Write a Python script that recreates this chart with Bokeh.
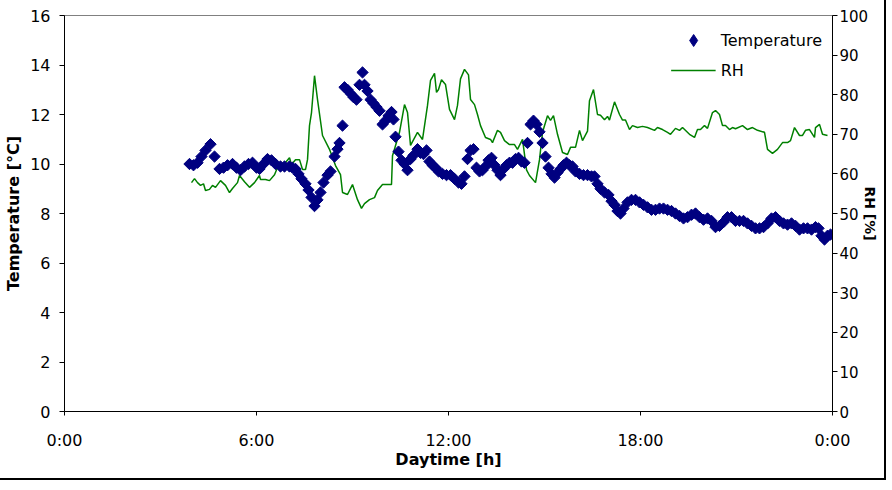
import math
from bokeh.plotting import figure
from bokeh.models import (Range1d, LinearAxis, FixedTicker, Legend, LegendItem,
                          ColumnDataSource)
from bokeh.embed import file_html
from bokeh.resources import INLINE

# ---- data (time of day in hours) ----
temp_hours = [3.906, 4.031, 4.156, 4.281, 4.406, 4.563, 4.688, 4.844, 4.969, 5.094,
              5.25, 5.375, 5.5, 5.625, 5.75, 5.875, 6.0, 6.094, 6.219, 6.344,
              6.469, 6.594, 6.75, 6.875, 7.031, 7.125, 7.219, 7.313, 7.406, 7.531,
              7.625, 7.719, 7.813, 7.906, 8.0, 8.094, 8.219, 8.313, 8.438, 8.531,
              8.594, 8.688, 8.75, 8.844, 8.938, 9.031, 9.125, 9.219, 9.313, 9.375,
              9.469, 9.563, 9.656, 9.75, 9.844, 9.938, 10.031, 10.125, 10.219, 10.281,
              10.344, 10.438, 10.531, 10.625, 10.719, 10.813, 10.906, 11.031, 11.125, 11.219,
              11.313, 11.406, 11.5, 11.594, 11.688, 11.813, 11.938, 12.063, 12.188, 12.313,
              12.406, 12.5, 12.594, 12.688, 12.781, 12.875, 12.969, 13.063, 13.156, 13.25,
              13.344, 13.438, 13.531, 13.625, 13.719, 13.813, 13.906, 14.0, 14.094, 14.188,
              14.281, 14.375, 14.469, 14.563, 14.656, 14.75, 14.844, 14.938, 15.031, 15.125,
              15.219, 15.313, 15.406, 15.5, 15.594, 15.688, 15.781, 15.875, 15.969, 16.094,
              16.219, 16.344, 16.469, 16.563, 16.656, 16.75, 16.875, 17.0, 17.094, 17.188,
              17.281, 17.375, 17.469, 17.594, 17.719, 17.844, 17.969, 18.094, 18.219, 18.344,
              18.469, 18.594, 18.719, 18.844, 18.969, 19.094, 19.219, 19.344, 19.469, 19.594,
              19.719, 19.844, 19.969, 20.094, 20.219, 20.344, 20.469, 20.594, 20.719, 20.844,
              20.969, 21.094, 21.219, 21.344, 21.469, 21.594, 21.719, 21.844, 21.969, 22.094,
              22.219, 22.344, 22.469, 22.594, 22.719, 22.844, 22.969, 23.094, 23.219, 23.344,
              23.469, 23.563, 23.656, 23.75, 23.844, 23.938]
temperature = [10.0, 9.95, 10.05, 10.3, 10.55, 10.8, 10.3, 9.8, 9.85, 9.95,
               10.0, 9.85, 9.75, 9.9, 10.0, 10.05, 9.85, 9.8, 10.0, 10.2,
               10.15, 10.0, 9.9, 9.9, 9.9, 9.85, 9.8, 9.6, 9.4, 9.2,
               8.95, 8.65, 8.3, 8.55, 8.85, 9.25, 9.55, 9.7, 10.3, 10.6,
               10.85, 11.55, 13.1, 13.0, 12.85, 12.7, 12.6, 13.2, 13.7, 13.2,
               12.95, 12.6, 12.45, 12.3, 12.15, 11.6, 11.75, 11.95, 12.1, 11.8,
               11.1, 10.5, 10.15, 10.0, 9.75, 10.2, 10.35, 10.6, 10.45, 10.4,
               10.55, 10.1, 9.95, 9.85, 9.7, 9.6, 9.55, 9.55, 9.4, 9.25,
               9.2, 9.5, 10.2, 10.55, 10.6, 9.85, 9.7, 9.75, 9.9, 10.15,
               10.25, 9.95, 9.75, 9.55, 9.8, 9.95, 10.05, 10.05, 10.2, 10.25,
               10.1, 10.05, 10.85, 11.6, 11.75, 11.6, 11.3, 10.85, 10.3, 9.85,
               9.6, 9.45, 9.65, 9.8, 9.95, 10.05, 9.95, 9.9, 9.7, 9.6,
               9.55, 9.55, 9.5, 9.5, 9.2, 9.0, 8.85, 8.75, 8.5, 8.35,
               8.1, 8.0, 8.2, 8.45, 8.55, 8.55, 8.45, 8.35, 8.25, 8.15,
               8.15, 8.2, 8.2, 8.15, 8.1, 8.0, 7.9, 7.8, 7.85, 7.95,
               8.0, 7.85, 7.75, 7.8, 7.7, 7.45, 7.5, 7.65, 7.85, 7.85,
               7.7, 7.7, 7.7, 7.6, 7.5, 7.4, 7.4, 7.45, 7.6, 7.8,
               7.85, 7.7, 7.6, 7.55, 7.6, 7.5, 7.35, 7.4, 7.4, 7.35,
               7.45, 7.4, 7.1, 6.95, 7.1, 7.15]

rh_hours = [3.969, 4.063, 4.156, 4.25, 4.344, 4.406, 4.531, 4.625, 4.719, 4.875,
            5.031, 5.156, 5.25, 5.406, 5.469, 5.625, 5.781, 5.938, 6.094, 6.125,
            6.281, 6.406, 6.563, 6.656, 6.75, 6.906, 7.031, 7.094, 7.219, 7.344,
            7.438, 7.531, 7.594, 7.656, 7.719, 7.813, 7.906, 8.063, 8.281, 8.469,
            8.625, 8.688, 8.844, 9.0, 9.156, 9.281, 9.375, 9.531, 9.688, 9.781,
            9.938, 10.094, 10.219, 10.25, 10.469, 10.625, 10.719, 10.813, 11.031, 11.188,
            11.344, 11.438, 11.563, 11.625, 11.688, 11.781, 11.906, 12.031, 12.188, 12.281,
            12.375, 12.5, 12.625, 12.688, 12.813, 12.906, 13.0, 13.156, 13.313, 13.375,
            13.531, 13.625, 13.75, 13.906, 14.063, 14.156, 14.313, 14.438, 14.531, 14.719,
            14.844, 14.938, 15.094, 15.188, 15.281, 15.406, 15.563, 15.719, 15.813, 15.969,
            16.094, 16.188, 16.344, 16.406, 16.531, 16.656, 16.75, 16.875, 16.969, 17.031,
            17.188, 17.344, 17.438, 17.531, 17.656, 17.75, 17.906, 18.063, 18.219, 18.438,
            18.531, 18.688, 18.844, 18.938, 19.094, 19.219, 19.313, 19.531, 19.688, 19.781,
            19.875, 20.0, 20.094, 20.25, 20.344, 20.469, 20.563, 20.656, 20.781, 20.875,
            20.969, 21.188, 21.344, 21.5, 21.656, 21.875, 21.969, 22.125, 22.281, 22.438,
            22.594, 22.688, 22.813, 22.969, 23.063, 23.156, 23.281, 23.438, 23.469, 23.594,
            23.688, 23.844]
rh = [57.8, 58.8, 57.8, 57.1, 57.5, 55.8, 56.1, 57.1, 56.6, 58.3,
      57.1, 55.3, 56.3, 57.8, 59.6, 58.0, 56.6, 57.8, 59.6, 58.6,
      58.6, 58.3, 59.8, 61.6, 60.9, 62.9, 64.1, 62.4, 63.6, 63.6,
      61.1, 61.1, 63.6, 72.2, 75.5, 84.8, 78.8, 69.7, 66.2, 62.1,
      59.8, 55.3, 54.8, 57.3, 53.5, 51.3, 52.5, 53.5, 54.0, 55.8,
      57.3, 57.3, 57.3, 64.6, 70.5, 77.5, 75.5, 67.2, 70.5, 68.7,
      77.3, 83.6, 85.4, 80.6, 81.3, 83.8, 82.6, 76.3, 73.7, 77.3,
      84.0, 86.4, 85.0, 78.8, 77.5, 75.0, 72.2, 69.2, 68.7, 67.9,
      71.0, 70.5, 68.4, 67.4, 67.4, 66.2, 68.7, 61.0, 59.6, 57.8,
      63.6, 70.5, 74.7, 73.5, 74.7, 70.0, 65.4, 64.9, 66.7, 66.7,
      71.0, 68.4, 70.8, 78.5, 81.3, 75.0, 74.8, 73.7, 74.5, 73.6,
      78.2, 75.0, 73.6, 73.6, 71.2, 72.2, 71.7, 72.0, 71.7, 71.0,
      71.7, 71.2, 70.5, 70.0, 71.5, 71.0, 71.7, 70.0, 69.2, 71.2,
      71.2, 72.2, 71.5, 75.5, 76.0, 75.0, 72.2, 72.2, 71.2, 71.7,
      71.4, 72.2, 71.2, 71.7, 71.0, 70.5, 66.2, 65.2, 66.2, 67.9,
      67.9, 68.4, 71.7, 69.7, 69.7, 71.0, 71.2, 69.2, 71.7, 72.5,
      70.0, 69.7]

x_ticks = [0, 6, 12, 18, 24]
x_tick_labels = ["0:00", "6:00", "12:00", "18:00", "0:00"]
temp_ticks = [0, 2, 4, 6, 8, 10, 12, 14, 16]
rh_ticks = [0, 10, 20, 30, 40, 50, 60, 70, 80, 90, 100]

assert len(temp_hours) == len(temperature)
assert len(rh_hours) == len(rh)

FONT = "DejaVu Sans"
NAVY = "#000080"
GREEN = "#008000"

p = figure(width=884, height=478, x_range=Range1d(0, 24), y_range=Range1d(0, 16),
           output_backend="svg", toolbar_location=None,
           min_border_left=64, min_border_top=15, min_border_right=52,
           min_border_bottom=67, background_fill_color="white",
           border_fill_color="white")
# outer chart border drawn outside the canvas (takes no layout space)
p.styles = {"box-shadow": "0 0 0 2px black"}
p.outline_line_color = "#808080"
p.outline_line_width = 1
p.xgrid.visible = False
p.ygrid.visible = False
p.extra_y_ranges = {"rh": Range1d(0, 100)}

temp_src = ColumnDataSource(dict(t=temp_hours, v=temperature))
rh_src = ColumnDataSource(dict(t=rh_hours, v=rh))

r_rh = p.line("t", "v", source=rh_src, y_range_name="rh", line_color=GREEN,
              line_width=1.5)
r_t = p.scatter("t", "v", source=temp_src, marker="square", angle=math.pi / 4,
                size=8, fill_color=NAVY, line_color=NAVY)
# legend-only glyph (a single undefined point, never drawn): diamond symbol
r_t_leg = p.scatter(x=[float("nan")], y=[float("nan")], marker="diamond",
                    fill_color=NAVY, line_color=NAVY)

# axes
xa = p.xaxis[0]
xa.ticker = FixedTicker(ticks=x_ticks)
xa.major_label_overrides = {t: l for t, l in zip(x_ticks, x_tick_labels)}
xa.axis_label = "Daytime [h]"
ya = p.yaxis[0]
ya.ticker = FixedTicker(ticks=temp_ticks)
ya.axis_label = "Temperature [°C]"

ra = LinearAxis(y_range_name="rh", ticker=FixedTicker(ticks=rh_ticks),
                axis_label="RH [%]")
p.add_layout(ra, "right")

for ax in (xa, ya, ra):
    ax.axis_line_color = "black"
    ax.major_tick_line_color = "black"
    ax.minor_tick_line_color = None
    ax.major_tick_in = 0
    ax.major_tick_out = 5
    ax.major_label_text_font = FONT
    ax.major_label_text_font_size = "16px"
    ax.major_label_text_color = "black"
    ax.axis_label_text_font = FONT
    ax.axis_label_text_font_size = "16px"
    ax.axis_label_text_font_style = "bold"
    ax.axis_label_text_color = "black"

xa.major_tick_out = 4
xa.major_label_standoff = 15
xa.axis_label_standoff = -3
ya.major_label_standoff = 9
ya.axis_label_standoff = 4
ra.major_label_standoff = 2
ra.axis_label_standoff = -9
ra.major_label_text_font_size = "15px"
ra.axis_label_text_font_size = "14px"

legend = Legend(items=[LegendItem(label="Temperature", renderers=[r_t_leg]),
                       LegendItem(label="RH", renderers=[r_rh])],
                location="top_right", border_line_color=None,
                background_fill_alpha=0, label_text_font=FONT,
                label_text_color="black",
                label_text_font_size="16px", glyph_width=45, glyph_height=30,
                label_height=30, spacing=0, padding=4, margin=10,
                label_standoff=5)
p.add_layout(legend)

open("out.html", "w").write(file_html(p, INLINE))
